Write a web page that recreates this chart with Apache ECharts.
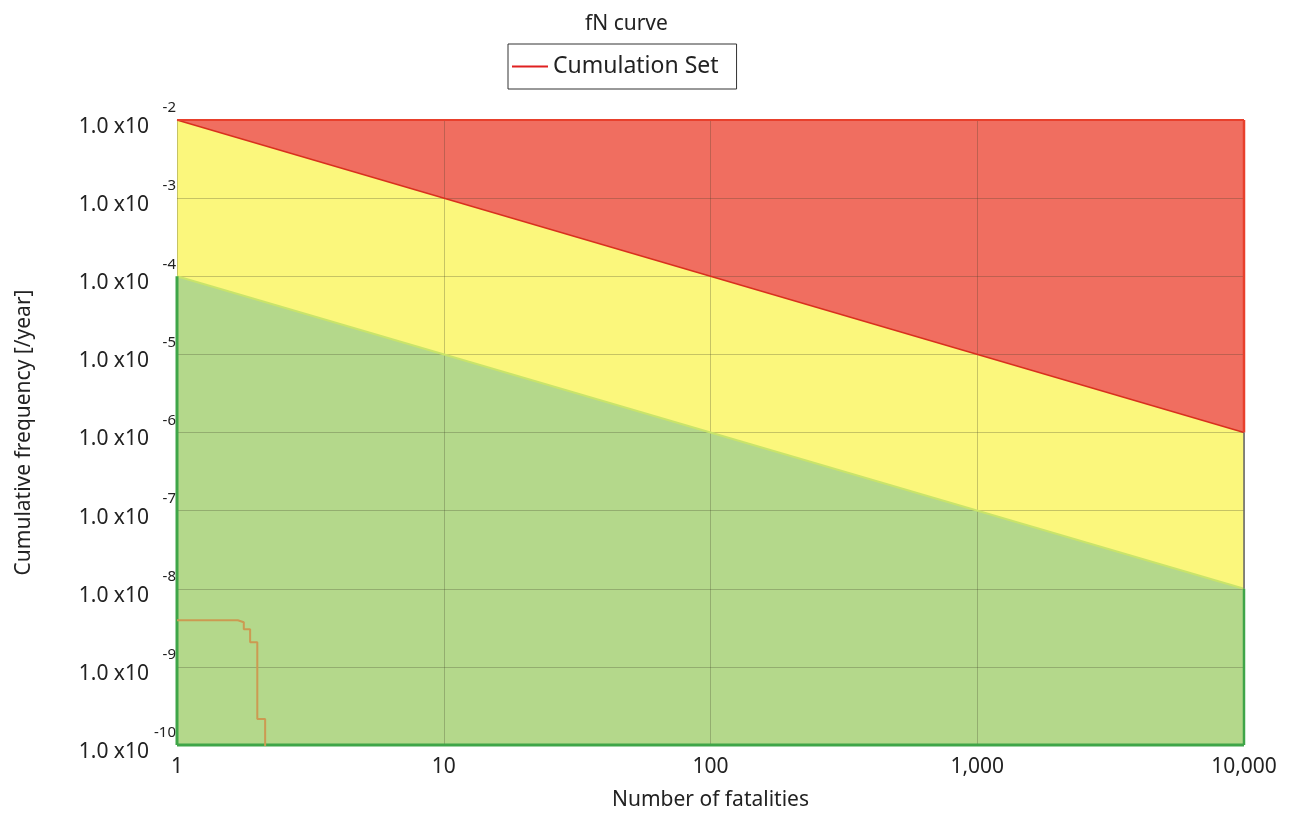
<!DOCTYPE html>
<html><head><meta charset="utf-8">
<script src="https://cdn.jsdelivr.net/npm/echarts@6/dist/echarts.min.js"></script>
<style>html,body{margin:0;background:#fff}#c{width:1296px;height:816px}</style>
</head><body><div id="c"></div>
<script>
// axis ranges
const xRange = [1, 10000];
const yRange = [1e-10, 1e-2];
// criterion lines (N, frequency)
const redLine = [[1, 1e-2], [10000, 1e-6]];
const greenLine = [[1, 1e-4], [10000, 1e-8]];
const topEdge = [[1, 1e-2], [10000, 1e-2]];
const bottomEdge = [[1, 1e-10], [10000, 1e-10]];
const leftGreenEdge = [[1, 1e-10], [1, 1e-4]];
const rightGreenEdge = [[10000, 1e-10], [10000, 1e-8]];
const rightYellowEdge = [[10000, 1e-8], [10000, 1e-6]];
const rightRedEdge = [[10000, 1e-6], [10000, 1e-2]];
// Cumulation Set (step curve)
const stepN = [1, 1.69, 1.78, 1.88, 2.0, 2.14];
const stepF = [3.95e-9, 3.73e-9, 3.03e-9, 2.07e-9, 2.15e-10, 1e-11];

const FONT = 'Noto Sans';
const chart = echarts.init(document.getElementById('c'), null, {renderer: 'canvas'});

function edge(name, data, color, width) {
  return {name, type: 'line', data, symbol: 'none', z: 4, silent: true,
    lineStyle: {color, width}, clip: false};
}

chart.setOption({
  animation: false,
  textStyle: {fontFamily: FONT},
  title: {text: 'fN curve', left: 580, top: 9,
    textStyle: {fontFamily: FONT, fontSize: 21, fontWeight: 'normal', color: '#222'}},
  legend: {
    left: 508, top: 44, padding: [11, 18, 11, 4],
    borderColor: '#333', borderWidth: 1, borderRadius: 0,
    itemWidth: 36, itemHeight: 2, itemGap: 6,
    textStyle: {fontFamily: FONT, fontSize: 23, color: '#222'},
    data: [{name: 'Cumulation Set', icon: 'rect', itemStyle: {color: '#e02020', borderWidth: 0}}]
  },
  grid: {left: 177, right: 52, top: 120, bottom: 70, show: false},
  xAxis: {
    type: 'log', logBase: 10, min: xRange[0], max: xRange[1], interval: 1, z: 3,
    name: 'Number of fatalities', nameLocation: 'middle', nameGap: 45,
    nameTextStyle: {fontFamily: FONT, fontSize: 21, color: '#222'},
    axisLine: {show: false}, axisTick: {show: false},
    axisLabel: {fontFamily: FONT, fontSize: 21, color: '#222', margin: 12,
      formatter: v => Math.round(v).toLocaleString('en-US')},
    splitLine: {show: true, lineStyle: {color: 'rgba(60,60,40,0.28)', width: 1}}
  },
  yAxis: [{
    type: 'log', logBase: 10, min: yRange[0], max: yRange[1], interval: 1, z: 3,
    name: 'Cumulative frequency [/year]', nameLocation: 'middle', nameGap: 142,
    nameTextStyle: {fontFamily: FONT, fontSize: 21, color: '#222'},
    axisLine: {show: false}, axisTick: {show: false},
    axisLabel: {fontFamily: FONT, fontSize: 21, color: '#222', margin: 28,
      verticalAlign: 'top', lineHeight: 14, formatter: () => '1.0 x10'},
    splitLine: {show: true, lineStyle: {color: 'rgba(60,60,40,0.28)', width: 1}}
  }, {
    type: 'log', logBase: 10, min: yRange[0], max: yRange[1], interval: 1, position: 'left', z: 3,
    axisLine: {show: false}, axisTick: {show: false}, splitLine: {show: false},
    axisLabel: {fontFamily: FONT, fontSize: 15, color: '#222', margin: 1,
      verticalAlign: 'bottom', lineHeight: 24, formatter: v => String(Math.round(Math.log10(v)))}
  }],
  series: [
    {name: 'red zone', type: 'line', data: topEdge, symbol: 'none', z: 1, silent: true,
      lineStyle: {width: 0}, areaStyle: {color: '#F06E60', opacity: 1, origin: 'start'}},
    {name: 'yellow zone', type: 'line', data: redLine, symbol: 'none', z: 1, silent: true,
      lineStyle: {width: 0}, areaStyle: {color: '#FBF77C', opacity: 1, origin: 'start'}},
    {name: 'green zone', type: 'line', data: greenLine, symbol: 'none', z: 1, silent: true,
      lineStyle: {width: 0}, areaStyle: {color: '#B4D88B', opacity: 1, origin: 'start'}},
    edge('red line', redLine, '#D8301E', 1.5),
    edge('green line', greenLine, '#C9E46A', 2),
    edge('top', topEdge, '#E8402C', 2),
    edge('rightRed', rightRedEdge, '#E8402C', 2.5),
    edge('rightYellow', rightYellowEdge, '#666', 1.5),
    edge('rightGreen', rightGreenEdge, '#3FA548', 2.5),
    edge('leftGreen', leftGreenEdge, '#3FA548', 3),
    edge('bottom', bottomEdge, '#3FA548', 3),
    {name: 'Cumulation Set', type: 'line', step: 'end', symbol: 'none', z: 5,
      data: stepN.map((n, i) => [n, stepF[i]]),
      itemStyle: {color: '#e02020'},
      lineStyle: {color: '#CC9A52', width: 2}}
  ]
});
</script></body></html>
